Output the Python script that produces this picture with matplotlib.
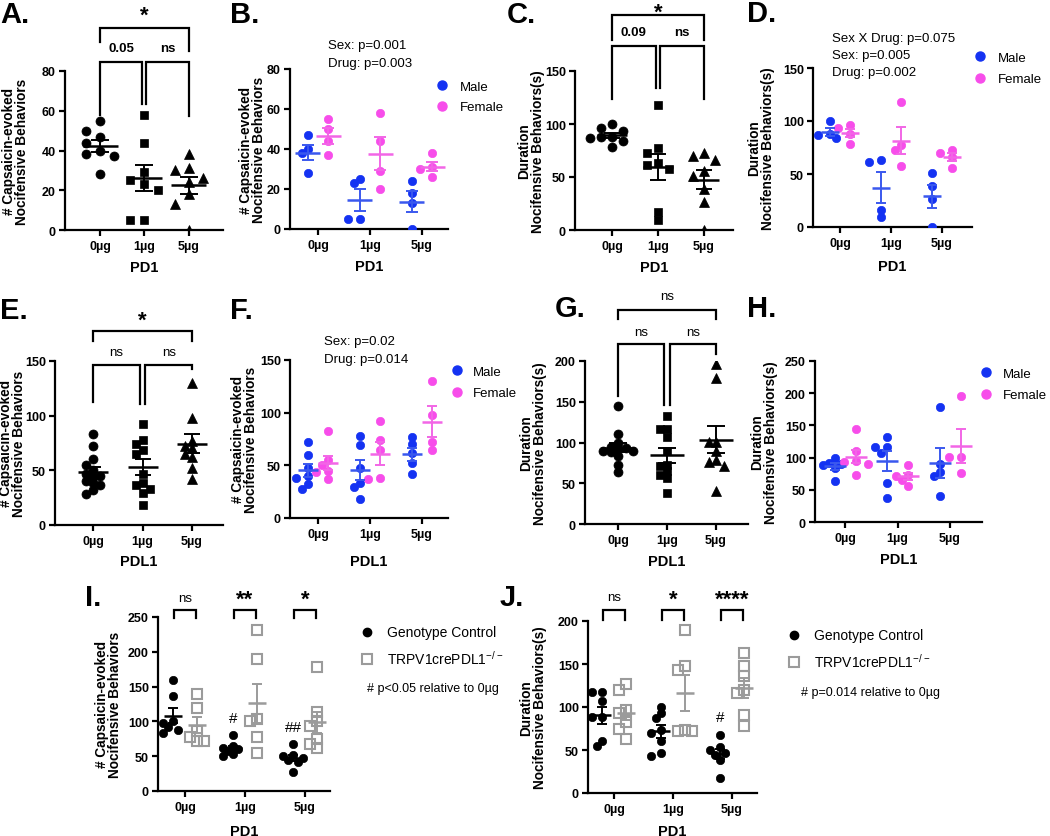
import numpy as np
import matplotlib
matplotlib.use('Agg')
import matplotlib.pyplot as plt
from matplotlib.lines import Line2D

plt.rcParams['font.family'] = ['Liberation Sans', 'DejaVu Sans']
plt.rcParams['mathtext.fontset'] = 'custom'
plt.rcParams['mathtext.rm'] = 'Liberation Sans'
plt.rcParams['mathtext.default'] = 'regular'

W, H = 1050, 837

doses = ['0µg', '1µg', '5µg']

# A / B : PD1, number of nocifensive behaviors
pd1_count = [[55, 50, 47, 44, 40, 38, 37, 28],
             [58, 44, 29, 25, 23, 20, 5, 5],
             [38, 31, 30, 26, 24, 18, 13, 0]]
pd1_count_male = [[47, 40, 38, 28], [25, 23, 5, 5], [24, 18, 13, 0]]
pd1_count_female = [[55, 50, 44, 37], [58, 44, 29, 20], [38, 31, 30, 26]]

# C / D : PD1, duration
pd1_dur = [[100, 96, 93, 88, 88, 87, 84, 78],
           [118, 77, 73, 63, 61, 58, 17, 9],
           [73, 70, 66, 56, 51, 39, 26, 0]]
pd1_dur_male = [[100, 88, 87, 84], [63, 61, 16, 9], [51, 39, 26, 0]]
pd1_dur_female = [[96, 93, 88, 78], [118, 77, 73, 58], [73, 70, 66, 56]]

# E / F : PDL1, number
pdl1_count_male = [[72, 60, 47, 40, 38, 32, 28], [78, 69, 47, 33, 29, 18], [77, 70, 62, 52, 42]]
pdl1_count_female = [[83, 55, 50, 45, 44, 37], [92, 74, 65, 38, 37], [130, 98, 72, 65]]
pdl1_count = [m + f for m, f in zip(pdl1_count_male, pdl1_count_female)]

# G / H : PDL1, duration
pdl1_dur_male = [[100, 92, 90, 88, 84, 64], [132, 117, 117, 107, 60, 38], [179, 90, 78, 71, 41]]
pdl1_dur_female = [[145, 110, 95, 93, 90, 73], [89, 73, 71, 65, 56], [196, 101, 101, 76]]
pdl1_dur = [m + f for m, f in zip(pdl1_dur_male, pdl1_dur_female)]

# I / J : genotype comparison
geno_count_ctrl = [[160, 137, 100, 97, 92, 88, 84], [80, 65, 62, 60, 58, 53, 50], [67, 52, 50, 48, 45, 41, 27]]
geno_count_ko = [[139, 119, 86, 78, 72, 72], [231, 189, 104, 101, 77, 55], [178, 114, 100, 93, 75, 68, 62]]
geno_dur_ctrl = [[117, 117, 107, 88, 88, 60, 55], [100, 93, 87, 73, 70, 61, 46, 43], [68, 53, 50, 47, 44, 38, 17]]
geno_dur_ko = [[127, 120, 96, 93, 82, 74, 63], [190, 148, 143, 73, 72, 72], [163, 148, 136, 120, 116, 91, 78]]
sig_count = ['ns', '**', '*']
sig_dur = ['ns', '*', '****']
hash_count = ['', '#', '##']
hash_dur = ['', '', '#']

MALE = '#1432F2'
FEMALE = '#F74DEA'
MALE_BAR = '#3A58EE'
FEMALE_BAR = '#F266E6'
GRAY = '#9B9B9B'

COUNT_LBL = '# Capsaicin-evoked\nNocifensive Behaviors'
DUR_LBL = 'Duration\nNocifensive Behaviors(s)'

fig = plt.figure(figsize=(W / 100, H / 100), dpi=100)


def px_text(x, y, s, **kw):
    # place a text at pixel coords measured from the top-left corner
    return fig.text(x / W, 1 - y / H, s, **kw)


def make_ax(left, top, right, bottom, ticks_px, ymax, ystep, xlabel, xlab_y, ylabel, ylab_right):
    sp = (ticks_px[2] - ticks_px[0]) / 2.0
    ax = fig.add_axes([left / W, 1 - bottom / H, (right - left) / W, (bottom - top) / H])
    ax.patch.set_alpha(0)
    ax.set_xlim((left - ticks_px[0]) / sp, (right - ticks_px[0]) / sp)
    ax.set_ylim(0, ymax)
    ax.set_yticks(np.arange(0, ymax + 1, ystep))
    ax.set_xticks(range(3))
    ax.set_xticklabels(doses)
    for s in ['top', 'right']:
        ax.spines[s].set_visible(False)
    for s in ['left', 'bottom']:
        ax.spines[s].set_linewidth(1.6)
    ax.tick_params(width=1.6, length=4.5, labelsize=9, pad=2)
    ax.tick_params(axis='x', pad=3)
    for lab in ax.get_xticklabels() + ax.get_yticklabels():
        lab.set_fontweight('bold')
    ax.set_xlabel(xlabel, fontsize=10.5, fontweight='bold')
    ax.xaxis.label.set_va('center')
    ax.xaxis.set_label_coords(0.5, -(xlab_y - bottom) / (bottom - top))
    ax.set_ylabel(ylabel, fontsize=9.8, fontweight='bold', linespacing=0.95)
    ax.yaxis.set_label_coords((ylab_right - left) / (right - left), 0.5)
    return ax


def swarm_x(ax, vals, center, step_px, min_px):
    vals = np.asarray(vals, float)
    (x0, y0), (x1, y1) = ax.transData.transform([(0, 0), (1, 1)])
    sx, sy = x1 - x0, y1 - y0
    placed = []
    xs = np.zeros(len(vals))
    for i in np.argsort(-vals, kind='stable'):
        best, best_d = 0, -1
        for k in (0, -1, 1, -2, 2):
            ox = k * step_px
            d = min([np.hypot(ox - px, (vals[i] - pv) * sy) for px, pv in placed] or [1e9])
            if d >= min_px:
                best = ox
                break
            if d > best_d:
                best, best_d = ox, d
        placed.append((best, vals[i]))
        xs[i] = center + best / sx
    return xs


def draw_group(ax, vals, center, marker, ms, color, bar_color, mean_px, cap_px,
               step_px, min_px, mfc=None, mew=0.5):
    vals = np.asarray(vals, float)
    xs = swarm_x(ax, vals, center, step_px, min_px)
    ax.plot(xs, vals, ls='none', marker=marker, ms=ms, mec=color,
            mfc=color if mfc is None else mfc, mew=mew, zorder=3)
    m = vals.mean()
    se = vals.std(ddof=1) / np.sqrt(len(vals))
    sx = ax.transData.transform([(1, 0)])[0][0] - ax.transData.transform([(0, 0)])[0][0]
    hw = mean_px / sx
    ax.plot([center - hw, center + hw], [m, m], color=bar_color, lw=1.8, zorder=4,
            solid_capstyle='butt')
    ax.errorbar(center, m, yerr=se, fmt='none', ecolor=bar_color, elinewidth=1.4,
                capsize=cap_px * 0.72, capthick=1.4, zorder=4)


def bracket(ax, x1, x2, y, y1, y2, text, ty, fs=9.5, weight='bold'):
    ax.plot([x1, x1, x2, x2], [y1, y, y, y2], color='black', lw=1.6, clip_on=False,
            solid_joinstyle='miter')
    ax.text((x1 + x2) / 2, ty, text, ha='center', va='center', fontsize=fs,
            fontweight=weight, clip_on=False)


def add_legend(ax, handles, labels, x_mark, y_first, x_text, gap, fs=9.5):
    fs_px = fs * 100 / 72
    hl_px = 10
    leg = ax.legend(handles, labels, loc='upper left',
                    bbox_to_anchor=((x_mark - hl_px / 2) / W, 1 - (y_first - 0.62 * fs_px + 4) / H),
                    bbox_transform=fig.transFigure, frameon=False, fontsize=fs,
                    handlelength=hl_px / fs_px, handletextpad=(x_text - x_mark - hl_px / 2) / fs_px,
                    borderpad=0, borderaxespad=0, labelspacing=(gap - 1.05 * fs_px) / fs_px)
    return leg


def sex_panel(ax, male, female, mean_px, cap_px, step_px):
    for i in range(3):
        draw_group(ax, male[i], i - 0.2, 'o', 6, MALE, MALE_BAR, mean_px, cap_px, step_px, 7)
        draw_group(ax, female[i], i + 0.2, 'o', 6, FEMALE, FEMALE_BAR, mean_px, cap_px, step_px, 7)


def single_panel(ax, groups, mean_px, cap_px, step_px, min_px):
    for i, (vals, mk, ms) in enumerate(zip(groups, ['o', 's', '^'], [6.5, 6, 6.5])):
        draw_group(ax, vals, i, mk, ms, 'black', 'black', mean_px, cap_px, step_px, min_px)


sex_handles = [Line2D([], [], ls='none', marker='o', ms=6.5, color=MALE),
               Line2D([], [], ls='none', marker='o', ms=6.5, color=FEMALE)]
geno_handles = [Line2D([], [], ls='none', marker='o', ms=6, color='black'),
                Line2D([], [], ls='none', marker='s', ms=6.5, mfc='none', mec=GRAY, mew=1.5)]

# ---- A ----
axA = make_ax(65, 72, 223, 231, (100, 144, 188.5), 80, 20, 'PD1', 268, COUNT_LBL, 29)
single_panel(axA, pd1_count, 17.5, 9, 14, 10)
bracket(axA, 0, 2, 101.6, 94.6, 90, '*', 108, fs=16)
bracket(axA, 0, 0.95, 84.7, 57.9, 63.4, '0.05', 91.6)
bracket(axA, 1.05, 2, 84.7, 63.4, 57.2, 'ns', 91.6)

# ---- B ----
axB = make_ax(290, 70, 448, 230, (318, 370, 422), 80, 20, 'PD1', 267, COUNT_LBL, 266)
sex_panel(axB, pd1_count_male, pd1_count_female, 12.5, 6, 6)
add_legend(axB, sex_handles, ['Male', 'Female'], 442, 86, 460, 22)
px_text(328, 46, 'Sex: p=0.001', fontsize=9.5, va='center')
px_text(328, 64, 'Drug: p=0.003', fontsize=9.5, va='center')

# ---- C ----
axC = make_ax(575, 72, 733, 231, (612, 658, 704), 150, 50, 'PD1', 268, DUR_LBL, 545)
single_panel(axC, pd1_dur, 15, 8, 11, 8)
bracket(axC, 0, 2, 202.8, 179.5, 179.5, '*', 205.5, fs=16)
bracket(axC, 0, 0.95, 173.9, 123.6, 133.7, '0.09', 186.8)
bracket(axC, 1.05, 2, 173.9, 133.7, 123.6, 'ns', 186.8)

# ---- D ----
axD = make_ax(813, 69, 972, 228, (840, 891, 942), 150, 50, 'PD1', 267, DUR_LBL, 775)
sex_panel(axD, pd1_dur_male, pd1_dur_female, 9, 5, 6)
add_legend(axD, sex_handles, ['Male', 'Female'], 980, 57, 998, 23)
px_text(832, 39, 'Sex X Drug: p=0.075', fontsize=9.5, va='center')
px_text(832, 56, 'Sex: p=0.005', fontsize=9.5, va='center')
px_text(832, 73, 'Drug: p=0.002', fontsize=9.5, va='center')

# ---- E ----
axE = make_ax(55, 362, 223, 526, (93, 142.5, 192), 150, 50, 'PDL1', 562, COUNT_LBL, 26)
single_panel(axE, pdl1_count, 15, 8, 7, 6)
bracket(axE, 0, 2, 177.8, 168.6, 168.6, '*', 187, fs=16)
bracket(axE, 0, 0.94, 146.4, 112.8, 110.7, 'ns', 158, weight='normal')
bracket(axE, 1.06, 2, 146.4, 110.7, 142.7, 'ns', 158, weight='normal')

# ---- F ----
axF = make_ax(290, 361, 448, 519, (318, 370, 422), 150, 50, 'PDL1', 562, COUNT_LBL, 258)
sex_panel(axF, pdl1_count_male, pdl1_count_female, 10, 5, 6)
add_legend(axF, sex_handles, ['Male', 'Female'], 457, 371, 473, 23)
px_text(324, 342, 'Sex: p=0.02', fontsize=9.5, va='center')
px_text(324, 360, 'Drug: p=0.014', fontsize=9.5, va='center')

# ---- G ----
axG = make_ax(585, 362, 748, 525, (618, 667, 716), 200, 50, 'PDL1', 562, DUR_LBL, 547)
single_panel(axG, pdl1_dur, 17, 9, 7.5, 6)
bracket(axG, 0, 2, 263, 251.5, 251.5, 'ns', 280, weight='normal')
bracket(axG, 0, 0.94, 220.9, 157.4, 146, 'ns', 236, weight='normal')
bracket(axG, 1.06, 2, 220.9, 146, 208.6, 'ns', 236, weight='normal')

# ---- H ----
axH = make_ax(815, 362, 982, 523, (845, 897, 950), 250, 50, 'PDL1', 560, DUR_LBL, 778)
sex_panel(axH, pdl1_dur_male, pdl1_dur_female, 11, 5, 6)
add_legend(axH, sex_handles, ['Male', 'Female'], 986, 373, 1003, 23)

# ---- I / J ----
for (left, top, right, bottom, ticks, ymax, ylab, lab_r, ctrl, ko, sig, hashes, br, note, note_xy,
     leg_xy) in [
        (158, 618, 330, 792, (185, 245, 305), 250, COUNT_LBL, 122, geno_count_ctrl, geno_count_ko,
         sig_count, hash_count, (260.6, 248.5, 278), '# p<0.05 relative to 0µg', (367, 689),
         (367, 631, 387)),
        (588, 622, 757, 794, (614, 673, 732), 200, DUR_LBL, 547, geno_dur_ctrl, geno_dur_ko,
         sig_dur, hash_dur, (212.4, 201.5, 228), '# p=0.014 relative to 0µg', (801, 693),
         (794, 634, 814))]:
    ax = make_ax(left, top, right, bottom, ticks, ymax, 50, 'PD1', 832, ylab, lab_r)
    for i in range(3):
        draw_group(ax, ctrl[i], i - 0.2, 'o', 6, 'black', 'black', 9, 5, 5, 6)
        draw_group(ax, ko[i], i + 0.2, 's', 6.5, GRAY, GRAY, 9, 5, 7, 7, mfc='none', mew=1.5)
        star = sig[i] != 'ns'
        bracket(ax, i - 0.19, i + 0.19, br[0], br[1], br[1], sig[i], br[2] - (3 if star else 0),
                fs=16 if star else 9.5, weight='bold' if star else 'normal')
        if hashes[i]:
            top_val = max(ctrl[i])
            ax.text(i - 0.2, top_val + 0.1 * ymax, hashes[i], ha='center', va='center', fontsize=11)
    add_legend(ax, geno_handles, ['Genotype Control', 'TRPV1crePDL1$^{-/-}$'],
               leg_xy[0], leg_xy[1], leg_xy[2], 24, fs=10)
    px_text(note_xy[0], note_xy[1], note, fontsize=9, va='center',
            family=['Liberation Sans Narrow', 'Liberation Sans', 'DejaVu Sans'])

for letter, x, y in [('A.', 0, 15), ('B.', 230, 15), ('C.', 507, 15), ('D.', 747, 14),
                     ('E.', 0, 311), ('F.', 230, 311), ('G.', 555, 309), ('H.', 747, 309),
                     ('I.', 85, 598), ('J.', 500, 598)]:
    px_text(x, y, letter, fontsize=21, fontweight='bold', va='center', ha='left')

fig.savefig('out.png', dpi=100)
